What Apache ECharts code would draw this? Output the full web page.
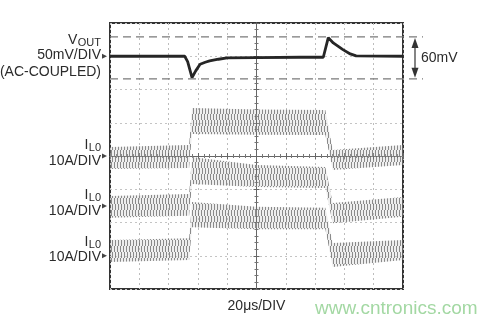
<!DOCTYPE html>
<html>
<head>
<meta charset="utf-8">
<script src="https://cdn.jsdelivr.net/npm/echarts@6/dist/echarts.min.js"></script>
<style>
  html, body { margin: 0; padding: 0; background: #fff; }
  #scope { width: 499px; height: 324px; }
</style>
</head>
<body>
<div id="scope"></div>
<script>
// scope settings: 10 div x 8 div, 20us/div
const timeMax = 200
const timeStep = 20
const divCount = 8
const mvPerDiv = 50
const ampPerDiv = 10

// VOUT (AC-coupled), mV relative to its marker
const voutOffset = 7
const voutTime = [0, 51, 53, 56, 58.5, 61.5, 65, 68, 74, 80, 100, 130, 145.6, 149, 152.4, 159, 164, 168, 200]
const voutMv = [0, 0, -8, -32, -22, -12, -9, -7, -4.5, -2.5, -2, -1.5, -1.5, 28, 20, 10, 3.5, 0.5, 0]
const voutMarks = [29, -34] // dashed 60mV window

// inductor currents: ripple envelope (A, relative to each marker)
const ilOffsets = [4, 2.5, 1]
const ilTime = [0, 54, 56, 100, 147, 152, 200]
const il1Upper = [2.7, 3.3, 14.4, 14.0, 13.8, 1.8, 3.3]
const il1Lower = [-3.9, -3.6, 6.6, 6.4, 6.3, -4.2, -2.7]
const il2Upper = [3.0, 3.6, 14.7, 12.3, 11.7, 0.9, 2.7]
const il2Lower = [-3.6, -3.0, 6.6, 5.7, 5.4, -5.2, -3.3]
const il3Upper = [4.7, 5.3, 16.2, 14.7, 14.4, 3.8, 4.7]
const il3Lower = [-1.9, -1.3, 8.6, 8.0, 8.0, -3.4, -1.3]

const FONT = '"Liberation Sans", Arial, Helvetica, sans-serif'
const INK = '#2b2b2b'
const gridBox = { left: 110, right: 96, top: 23, bottom: 35 }
const gridW = 499 - gridBox.left - gridBox.right
const gridH = 324 - gridBox.top - gridBox.bottom

// hatch pattern for switching ripple (near-vertical strokes)
function makeHatch() {
  const c = document.createElement('canvas')
  c.width = 3
  c.height = 12
  const ctx = c.getContext('2d')
  ctx.fillStyle = 'rgba(200,200,200,0.3)'
  ctx.fillRect(0, 0, 3, 12)
  ctx.fillStyle = 'rgba(95,95,95,0.7)'
  ctx.fillRect(1, 0, 1, 6)
  ctx.fillRect(0, 6, 1, 6)
  return c
}
const hatch = { image: makeHatch(), repeat: 'repeat' }

const chart = echarts.init(document.getElementById('scope'), null, { renderer: 'canvas' })

const ilBands = [[il1Upper, il1Lower], [il2Upper, il2Lower], [il3Upper, il3Lower]]

// ripple band: polygon between upper and lower envelope
function renderBand(params, api) {
  const i = api.value(0)
  const [up, lo] = ilBands[i]
  const off = ilOffsets[i]
  const pts = []
  ilTime.forEach((t, k) => pts.push(api.coord([t, off + up[k] / ampPerDiv])))
  for (let k = ilTime.length - 1; k >= 0; k--) pts.push(api.coord([ilTime[k], off + lo[k] / ampPerDiv]))
  return { type: 'polygon', shape: { points: pts }, style: { fill: hatch } }
}

const series = [
  {
    type: 'custom', silent: true, z: 3,
    renderItem: renderBand,
    data: ilOffsets.map((o, i) => [i])
  },
  {
    type: 'line', symbol: 'none', silent: true, z: 5,
    lineStyle: { color: '#262626', width: 2.8 },
    data: voutTime.map((t, k) => [t, voutOffset + voutMv[k] / mvPerDiv])
  }
]

function centerAxis(kind, inside) {
  const base = {
    type: 'value', min: 0, max: kind === 'x' ? timeMax : divCount,
    interval: kind === 'x' ? timeStep : 1,
    axisLine: { show: true, onZero: false, lineStyle: { color: '#666', width: 1 } },
    axisTick: { show: true, inside: inside, length: 3, lineStyle: { color: '#666' } },
    minorTick: { show: true, splitNumber: 5, length: 2, lineStyle: { color: '#777' } },
    axisLabel: { show: false },
    splitLine: { show: false }
  }
  if (kind === 'x') {
    base.position = 'bottom'
    base.offset = -gridH / 2
  } else {
    base.position = 'left'
    base.offset = -gridW / 2
  }
  return base
}

chart.setOption({
  animation: false,
  backgroundColor: '#fff',
  grid: Object.assign({ show: true, borderColor: '#333', borderWidth: 2, backgroundColor: '#fff' }, gridBox),
  xAxis: [
    {
      type: 'value', min: 0, max: timeMax, interval: timeStep,
      axisLine: { show: false }, axisTick: { show: false }, axisLabel: { show: false },
      splitLine: { show: true, lineStyle: { color: '#bdbdbd', type: [2, 3], width: 1 } }
    },
    centerAxis('x', true),
    centerAxis('x', false)
  ],
  yAxis: [
    {
      type: 'value', min: 0, max: divCount, interval: 1,
      axisLine: { show: false }, axisTick: { show: false }, axisLabel: { show: false },
      splitLine: { show: true, lineStyle: { color: '#c4c4c4', type: [2, 3], width: 1 } }
    },
    centerAxis('y', true),
    centerAxis('y', false)
  ],
  series: series
})

// annotations placed with the chart's own scales
const px = (t, v) => chart.convertToPixel({ xAxisIndex: 0, yAxisIndex: 0 }, [t, v])
const [xl, yb] = px(0, 0)
const [xr, yt] = px(timeMax, divCount)
const labelRight = xl - 9

const measure = document.createElement('canvas').getContext('2d')
function textW(str, size) {
  measure.font = size + 'px ' + FONT
  return measure.measureText(str).width
}
function txt(str, x, y, size, align, fill) {
  return {
    type: 'text', x: x, y: y, silent: true, z: 20,
    style: {
      text: str, font: size + 'px ' + FONT, fill: fill || INK,
      align: align, verticalAlign: 'middle', textAlign: align, textVerticalAlign: 'middle'
    }
  }
}
function subLabel(main, sub, y) {
  const sw = textW(sub, 11)
  return [
    txt(sub, labelRight, y + 3, 11, 'right'),
    txt(main, labelRight - sw - 0.5, y, 14, 'right')
  ]
}
function marker(y) {
  return {
    type: 'polygon', silent: true, z: 20,
    shape: { points: [[xl - 8, y - 2.5], [xl - 3, y], [xl - 8, y + 2.5]] },
    style: { fill: '#444' }
  }
}

const g = []
// VOUT label
const vy = px(0, voutOffset)[1]
g.push(...subLabel('V', 'OUT', vy - 16))
g.push(txt('50mV/DIV', labelRight, vy - 1, 14, 'right'))
g.push(txt('(AC-COUPLED)', labelRight, vy + 16, 14, 'right'))
g.push(marker(vy))

// IL0 labels
const ilTextShift = [[-11, 5], [-11, 5], [-14, 1]]
ilOffsets.forEach((off, i) => {
  const y = px(0, off)[1]
  g.push(...subLabel('I', 'L0', y + ilTextShift[i][0]))
  g.push(txt('10A/DIV', labelRight, y + ilTextShift[i][1], 14, 'right'))
  g.push(marker(y))
})

// 60mV window
const ys = voutMarks.map(m => px(0, voutOffset + m / mvPerDiv)[1])
ys.forEach(y => {
  g.push({
    type: 'line', silent: true, z: 15,
    shape: { x1: xl, y1: y, x2: xr + 20, y2: y },
    style: { stroke: '#7a7a7a', lineWidth: 1.3, lineDash: [8, 5] }
  })
})
const ax = xr + 12
const yTop = Math.min(ys[0], ys[1])
const yBot = Math.max(ys[0], ys[1])
g.push({
  type: 'line', silent: true, z: 15,
  shape: { x1: ax, y1: yTop + 6, x2: ax, y2: yBot - 6 },
  style: { stroke: '#333', lineWidth: 1.2 }
})
g.push({
  type: 'polygon', silent: true, z: 15,
  shape: { points: [[ax, yTop + 1], [ax - 3.5, yTop + 11], [ax + 3.5, yTop + 11]] },
  style: { fill: '#333' }
})
g.push({
  type: 'polygon', silent: true, z: 15,
  shape: { points: [[ax, yBot - 1], [ax - 3.5, yBot - 11], [ax + 3.5, yBot - 11]] },
  style: { fill: '#333' }
})
g.push(txt('60mV', ax + 6, (yTop + yBot) / 2, 14, 'left'))

// time base
g.push(txt('20\u03bcs/DIV', (xl + xr) / 2, yb + 17, 14, 'center'))
// watermark
g.push(txt('www.cntronics.com', 315, yb + 20, 19, 'left', '#a3d8a3'))

chart.setOption({ graphic: { elements: g } })
</script>
</body>
</html>
